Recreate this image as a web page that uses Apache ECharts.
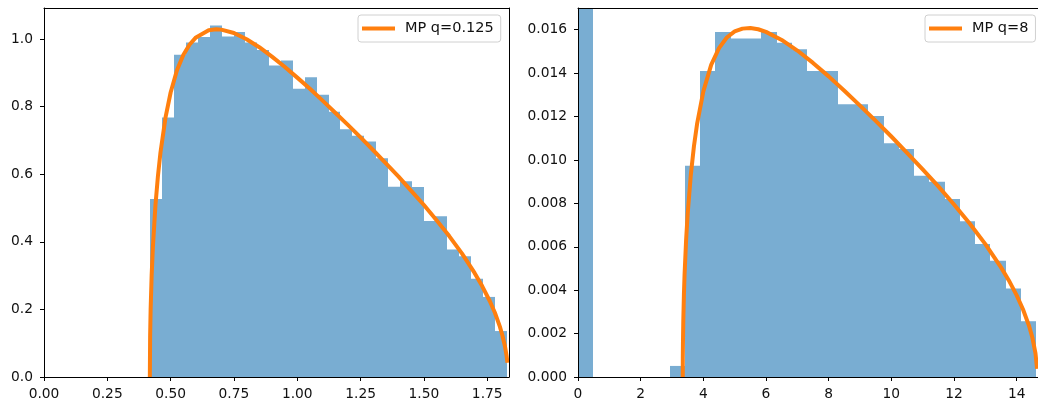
<!DOCTYPE html>
<html>
<head>
<meta charset="utf-8">
<script src="https://cdn.jsdelivr.net/npm/echarts@6/dist/echarts.min.js"></script>
<style>
  html, body { margin: 0; padding: 0; background: #fff; }
  #chart { width: 1038px; height: 404px; }
</style>
</head>
<body>
<div id="chart"></div>
<script>
// ---- Left panel: eigenvalue histogram, q = 0.125 (30 equal-width bins) ----
const leftBinStart = 0.42;
const leftBinWidth = 0.0469;
const leftHeights = [
  0.527, 0.768, 0.954, 0.990, 1.006, 1.040, 1.008, 1.021, 0.990, 0.968,
  0.922, 0.937, 0.853, 0.887, 0.835, 0.785, 0.733, 0.714, 0.697, 0.647,
  0.563, 0.579, 0.562, 0.462, 0.476, 0.377, 0.357, 0.291, 0.237, 0.136
];
// Marchenko-Pastur density, q = 0.125
const leftCurveX = [
  0.4179, 0.419, 0.421, 0.425, 0.43, 0.44, 0.45, 0.46, 0.48, 0.50,
  0.525, 0.55, 0.575, 0.60, 0.65, 0.68, 0.70, 0.75, 0.80, 0.85,
  0.90, 0.95, 1.00, 1.05, 1.10, 1.15, 1.20, 1.25, 1.30, 1.35,
  1.40, 1.45, 1.50, 1.55, 1.60, 1.65, 1.70, 1.73, 1.76, 1.78,
  1.80, 1.81, 1.82, 1.826, 1.83
];
const leftCurveY = [
  0.000, 0.120, 0.200, 0.300, 0.386, 0.508, 0.596, 0.665, 0.769, 0.842,
  0.908, 0.953, 0.984, 1.005, 1.026, 1.029, 1.028, 1.018, 0.9995, 0.976,
  0.948, 0.918, 0.886, 0.853, 0.818, 0.782, 0.746, 0.709, 0.671, 0.632,
  0.593, 0.551, 0.509, 0.464, 0.417, 0.366, 0.308, 0.269, 0.225, 0.191,
  0.149, 0.123, 0.091, 0.065, 0.042
];
const leftXTicks = [0, 0.25, 0.5, 0.75, 1.0, 1.25, 1.5, 1.75];
const leftYTicks = [0, 0.2, 0.4, 0.6, 0.8, 1.0];

// ---- Right panel: eigenvalue histogram, q = 8 (30 equal-width bins) ----
const rightBinStart = 0;
const rightBinWidth = 0.4875;
const rightHeights = [
  1.79, 0, 0, 0, 0, 0, 0.00051, 0.00973, 0.0141, 0.0159,
  0.0156, 0.0156, 0.0159, 0.0154, 0.0151, 0.0141, 0.0141, 0.01257, 0.01257, 0.01203,
  0.01077, 0.0105, 0.00927, 0.0090, 0.0082, 0.00717, 0.00613, 0.00536, 0.00408, 0.00257
];
// Marchenko-Pastur density, q = 8
const rightCurveX = [
  3.3431, 3.345, 3.35, 3.36, 3.38, 3.40, 3.45, 3.5, 3.6, 3.7,
  3.8, 4.0, 4.25, 4.5, 4.75, 5.0, 5.25, 5.5, 5.75, 6.0,
  6.5, 7.0, 7.5, 8.0, 8.5, 9.0, 9.5, 10.0, 10.5, 11.0,
  11.5, 12.0, 12.5, 13.0, 13.5, 13.75, 14.0, 14.2, 14.4, 14.5,
  14.6, 14.65
];
const rightCurveY = [
  0.0, 0.00086, 0.00165, 0.00258, 0.00379, 0.00468, 0.00631, 0.00752, 0.00931, 0.01063,
  0.01166, 0.01316, 0.01438, 0.01515, 0.01564, 0.01592, 0.01605, 0.01608, 0.01602, 0.01590,
  0.01553, 0.01504, 0.01447, 0.01385, 0.01319, 0.01250, 0.01180, 0.01108, 0.01033, 0.00957,
  0.00878, 0.00795, 0.00707, 0.00612, 0.00505, 0.00445, 0.00376, 0.00312, 0.00233, 0.00182,
  0.00109, 0.00038
];
const rightXTicks = [0, 2, 4, 6, 8, 10, 12, 14];
const rightYTicks = [0, 0.002, 0.004, 0.006, 0.008, 0.010, 0.012, 0.014, 0.016];

const barColor = '#79add2';
const curveColor = '#ff7f0e';
const textColor = '#111';
const fontFamily = 'DejaVu Sans';

function binsOf(start, width, heights) {
  return heights.map((h, i) => [start + i * width, start + (i + 1) * width, h]);
}
function pairs(xs, ys) {
  return xs.map((x, i) => [x, ys[i]]);
}

// One histogram bin; edges snapped to whole pixels so neighbouring bins meet without seams
function renderBin(params, api) {
  const h = api.value(2);
  if (!(h > 0)) return;
  const p0 = api.coord([api.value(0), 0]);
  const p1 = api.coord([api.value(1), h]);
  const xa = Math.round(p0[0]), xb = Math.round(p1[0]);
  const cs = params.coordSys;
  const shape = echarts.graphic.clipRectByRect(
    { x: xa, y: p1[1], width: xb - xa, height: p0[1] - p1[1] },
    { x: cs.x, y: cs.y, width: cs.width, height: cs.height }
  );
  if (!shape) return;
  return { type: 'rect', shape: shape, style: { fill: barColor } };
}

const spine = { show: true, onZero: false, lineStyle: { color: '#000', width: 1 } };

function axisOf(kind, gridIndex, max, ticks, digits) {
  return {
    type: 'value', gridIndex: gridIndex, min: 0, max: max, z: 5,
    position: kind === 'x' ? 'bottom' : 'left',
    axisLine: spine,
    axisTick: { show: true, length: 4, customValues: ticks, lineStyle: { color: '#000', width: 1 } },
    axisLabel: {
      customValues: ticks, margin: kind === 'x' ? 10 : 11,
      fontSize: 13.8, color: textColor, fontFamily: fontFamily,
      formatter: v => Number(v).toFixed(digits)
    },
    splitLine: { show: false }
  };
}
// Plain frame edge (top or right) drawn over the bars
function frameOf(position, gridIndex, max) {
  return {
    type: 'value', gridIndex: gridIndex, min: 0, max: max, z: 5, position: position,
    axisLine: spine, axisTick: { show: false }, axisLabel: { show: false },
    splitLine: { show: false }
  };
}
function legendOf(name, left) {
  return {
    data: [name], left: left, top: 15, orient: 'horizontal',
    icon: 'rect', itemWidth: 33, itemHeight: 4,
    padding: [6, 7, 6, 4],
    borderColor: '#d0d0d0', borderWidth: 1, borderRadius: 3,
    backgroundColor: 'rgba(255,255,255,0.8)',
    textStyle: { fontSize: 14.5, color: textColor, fontFamily: fontFamily, padding: [0, 0, 0, 5] }
  };
}

const chart = echarts.init(document.getElementById('chart'), null, { renderer: 'canvas' });
chart.setOption({
  animation: false,
  backgroundColor: '#fff',
  grid: [
    { left: 44, top: 8, width: 465, height: 369 },
    { left: 578, top: 8, width: 465, height: 369 }
  ],
  xAxis: [
    axisOf('x', 0, 1.836, leftXTicks, 2),
    axisOf('x', 1, 14.68, rightXTicks, 0),
    frameOf('top', 0, 1.836),
    frameOf('top', 1, 14.68)
  ],
  yAxis: [
    axisOf('y', 0, 1.092, leftYTicks, 1),
    axisOf('y', 1, 0.017, rightYTicks, 3),
    frameOf('right', 0, 1.092),
    frameOf('right', 1, 0.017)
  ],
  legend: [
    legendOf('MP q=0.125', 358),
    legendOf('MP q=8', 925)
  ],
  series: [
    {
      type: 'custom', name: 'hist q=0.125', xAxisIndex: 0, yAxisIndex: 0,
      renderItem: renderBin, encode: { x: [0, 1], y: 2 },
      data: binsOf(leftBinStart, leftBinWidth, leftHeights), z: 2
    },
    {
      type: 'line', name: 'MP q=0.125', xAxisIndex: 0, yAxisIndex: 0,
      data: pairs(leftCurveX, leftCurveY), symbol: 'none', showSymbol: false,
      color: curveColor, lineStyle: { color: curveColor, width: 4, join: 'round' }, clip: true, z: 3
    },
    {
      type: 'custom', name: 'hist q=8', xAxisIndex: 1, yAxisIndex: 1,
      renderItem: renderBin, encode: { x: [0, 1], y: 2 },
      data: binsOf(rightBinStart, rightBinWidth, rightHeights), z: 2
    },
    {
      type: 'line', name: 'MP q=8', xAxisIndex: 1, yAxisIndex: 1,
      data: pairs(rightCurveX, rightCurveY), symbol: 'none', showSymbol: false,
      color: curveColor, lineStyle: { color: curveColor, width: 4, join: 'round' }, clip: true, z: 3
    }
  ]
});
</script>
</body>
</html>
